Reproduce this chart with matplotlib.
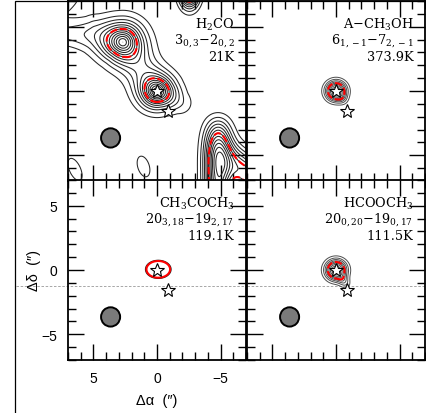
import numpy as np
import matplotlib
matplotlib.use("Agg")
from matplotlib import pyplot as plt
from matplotlib.patches import Ellipse, Rectangle
from matplotlib.ticker import MultipleLocator

plt.rcParams["font.family"] = ["Liberation Sans", "DejaVu Sans"]
plt.rcParams["mathtext.fontset"] = "dejavuserif"
plt.rcParams["lines.dashed_pattern"] = [3.5, 1.3]

# offsets (arcsec) of the map grid
ra_axis = np.linspace(7.5, -7.5, 301)
dec_axis = np.linspace(-7.5, 7.5, 301)
RA, DEC = np.meshgrid(ra_axis, dec_axis)

# H2CO clumps: centre, peak (contour steps), widths, angle, profile exponents
h2co_ra    = [2.7, 0.0, -4.8, -8.2, -2.55, 8.2, 1.06, 6.45]
h2co_dec   = [3.8, 0.0, -9.5, -7.6, 7.8, 8.2, -5.87, -6.1]
h2co_amp   = [10.0, 10.0, 11.0, 8.0, 11.4, 4.0, 1.4, 1.4]
h2co_major = [1.38, 1.2, 6.9, 4.0, 1.22, 1.9, 1.43, 1.6]
h2co_minor = [1.32, 1.1, 1.04, 1.3, 0.74, 1.9, 0.78, 0.75]
h2co_pa    = [0, 0, 90, 45, 90, 0, 72, 65]
h2co_pmaj  = [1.5, 1.5, 7, 4, 2, 2, 2, 2]
h2co_pmin  = [1.5, 1.5, 2, 2, 2, 2, 2, 2]

# H2CO filament joining the clumps: vertices, peak, half width
ridge_ra    = [8.5, 5.0, 2.7, 0.0, -2.0]
ridge_dec   = [4.5, 4.4, 3.8, 0.0, -1.0]
ridge_amp   = [2.0, 2.8, 3.0, 3.0, 1.3]
ridge_width = [0.8, 1.3, 1.55, 1.3, 0.9]

ch3oh_ra    = [0.0, -0.45]
ch3oh_dec   = [0.0, -0.55]
ch3oh_amp   = [9.0, 1.5]
ch3oh_major = [0.8, 0.5]
ch3oh_minor = [0.76, 0.4]
ch3oh_pa    = [0, 50]
ch3oh_pmaj  = [2.3, 2.0]
ch3oh_pmin  = [2.3, 2.0]

acet_ra    = [-0.1]
acet_dec   = [0.05]
acet_amp   = [2.2]
acet_major = [1.13]
acet_minor = [0.79]
acet_pa    = [0]
acet_pmaj  = [2.0]
acet_pmin  = [2.0]

mf_ra    = [0.0, -0.6]
mf_dec   = [0.0, -0.85]
mf_amp   = [9.0, 2.5]
mf_major = [0.82, 0.6]
mf_minor = [0.78, 0.4]
mf_pa    = [0, 55]
mf_pmaj  = [2.3, 2.0]
mf_pmin  = [2.3, 2.0]

species = ["H$_2$CO", "A\u2212CH$_3$OH", "CH$_3$COCH$_3$", "HCOOCH$_3$"]
transitions = [r"$3_{0,3}{-}2_{0,2}$", r"$6_{1,-1}{-}7_{2,-1}$",
               r"$20_{3,18}{-}19_{2,17}$", r"$20_{0,20}{-}19_{0,17}$"]
energies = ["21K", "373.9K", "119.1K", "111.5K"]

black_levels = [np.arange(1, 14), np.arange(1, 9), [1.0], np.arange(1, 9)]
red_levels = [7.0, 5.0, 1.12, 5.0]
red_styles = ["dashed", "dashed", "solid", "dashed"]

star_ra = [0.0, -0.9]
star_dec = [0.0, -1.55]
beam_ra, beam_dec, beam_size = 3.65, -3.65, 1.5
ref_dec = -1.25


def emission(ra0, dec0, amp, major, minor, pa, pmaj, pmin):
    field = np.zeros_like(RA)
    for x0, y0, a, s1, s2, t, p1, p2 in zip(ra0, dec0, amp, major, minor, pa, pmaj, pmin):
        t = np.radians(t)
        dx, dy = RA - x0, DEC - y0
        u = dx * np.cos(t) + dy * np.sin(t)
        v = -dx * np.sin(t) + dy * np.cos(t)
        if p1 == p2:
            field += a * np.exp(-np.hypot(u / s1, v / s2) ** p1)
        else:
            field += a * np.exp(-np.abs(u / s1) ** p1 - np.abs(v / s2) ** p2)
    return field


def filament(xs, ys, amp, width, index=2.0):
    field = np.zeros_like(RA)
    for k in range(len(xs) - 1):
        x0, y0 = xs[k], ys[k]
        dx, dy = xs[k + 1] - x0, ys[k + 1] - y0
        t = ((RA - x0) * dx + (DEC - y0) * dy) / (dx * dx + dy * dy)
        t = np.clip(t, 0, 1)
        dist = np.hypot(RA - (x0 + t * dx), DEC - (y0 + t * dy))
        a = amp[k] + t * (amp[k + 1] - amp[k])
        w = width[k] + t * (width[k + 1] - width[k])
        field = np.maximum(field, a * np.exp(-(dist / w) ** index))
    return field


maps = [
    emission(h2co_ra, h2co_dec, h2co_amp, h2co_major, h2co_minor, h2co_pa, h2co_pmaj, h2co_pmin)
    + filament(ridge_ra, ridge_dec, ridge_amp, ridge_width),
    emission(ch3oh_ra, ch3oh_dec, ch3oh_amp, ch3oh_major, ch3oh_minor, ch3oh_pa, ch3oh_pmaj, ch3oh_pmin),
    emission(acet_ra, acet_dec, acet_amp, acet_major, acet_minor, acet_pa, acet_pmaj, acet_pmin),
    emission(mf_ra, mf_dec, mf_amp, mf_major, mf_minor, mf_pa, mf_pmaj, mf_pmin),
]
line_colors = ["0.15", "0.3", "0.12", "0.3"]
line_widths = [0.75, 0.7, 0.9, 0.7]

fig = plt.figure(figsize=(4.26, 4.14), dpi=100)
w, h = 178 / 426, 180 / 414
boxes = [(68 / 426, 232 / 414), (247 / 426, 232 / 414),
         (68 / 426, 53 / 414), (247 / 426, 53 / 414)]

axes = []
for i, (x0, y0) in enumerate(boxes):
    ax = fig.add_axes([x0, y0, w, h])
    axes.append(ax)
    ax.contour(RA, DEC, maps[i], levels=black_levels[i], colors=line_colors[i],
               linewidths=line_widths[i], zorder=2)
    ax.contour(RA, DEC, maps[i], levels=[red_levels[i]], colors="red",
               linewidths=1.5, linestyles=red_styles[i], zorder=3)
    ax.add_patch(Ellipse((beam_ra, beam_dec), beam_size, beam_size,
                         facecolor="#7a7a7a", edgecolor="black", lw=1.4, zorder=4))
    ax.plot(star_ra, star_dec, linestyle="none", marker="*", ms=10,
            mfc="white", mec="black", mew=0.8, zorder=5)

    ax.set_xlim(7, -7)
    ax.set_ylim(-7, 7)
    ax.xaxis.set_major_locator(MultipleLocator(5))
    ax.xaxis.set_minor_locator(MultipleLocator(1))
    ax.yaxis.set_major_locator(MultipleLocator(5))
    ax.yaxis.set_minor_locator(MultipleLocator(1))
    ax.tick_params(which="both", direction="in", top=True, right=True,
                   width=1.0, labelsize=10, pad=8)
    ax.tick_params(which="major", length=11.5)
    ax.tick_params(which="minor", length=6)
    for sp in ax.spines.values():
        sp.set_linewidth(1.3)
    if i != 2:
        ax.tick_params(labelbottom=False, labelleft=False)

    serif = dict(transform=ax.transAxes, ha="right", va="center",
                 family="DejaVu Serif", fontsize=9.3, zorder=6)
    ax.text(0.935, 0.875, species[i], **serif)
    ax.text(0.935, 0.785, transitions[i], **serif)
    ax.text(0.935, 0.69, energies[i], **serif)

# reference declination across the lower row
axes[2].axhline(ref_dec, xmin=-0.29, xmax=1, color="0.6", lw=0.6,
                ls=(0, (3, 2)), clip_on=False, zorder=1)
axes[3].axhline(ref_dec, color="0.6", lw=0.6, ls=(0, (3, 2)), zorder=1)

axes[2].set_xlabel("\u0394\u03b1  (\u2033)", fontsize=10.5, labelpad=6)
axes[2].set_ylabel("\u0394\u03b4  (\u2033)", fontsize=10.5, labelpad=0)

fig.add_artist(Rectangle((15 / 426, -0.05), 1.1, 1.05 - 2 / 414,
                         transform=fig.transFigure, fill=False, lw=0.9))

fig.savefig("out.png", dpi=100)
